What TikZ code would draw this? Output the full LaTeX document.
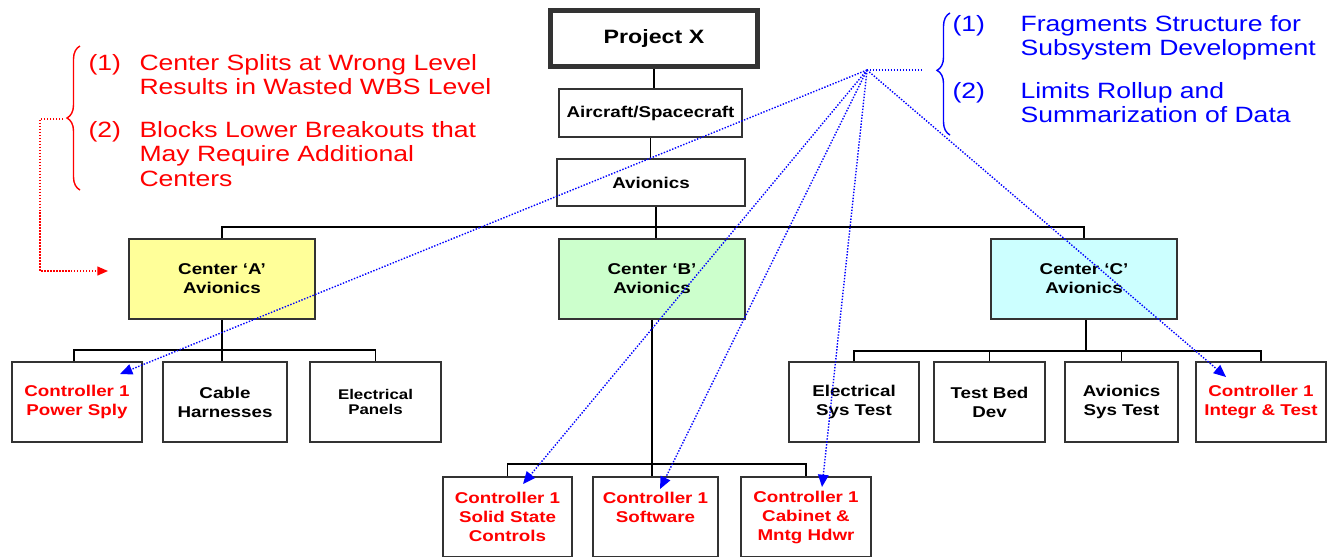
\documentclass[tikz,border=0pt]{standalone}
\usepackage{fontspec}
\setmainfont[FakeStretch=1.2]{Liberation Sans}
\usetikzlibrary{arrows.meta,decorations.pathreplacing}

\definecolor{gelb}{HTML}{FFFF99}
\definecolor{gruen}{HTML}{CCFFCC}
\definecolor{tuerkis}{HTML}{CCFFFF}
\definecolor{blau}{HTML}{0000FF}

\tikzset{
    kasten/.style={draw=black!80, line width=0.85pt, align=center, inner sep=1pt,
        minimum height=1.6cm, font=\fontsize{8.9}{10.8}\selectfont\bfseries},
    rotbox/.style={kasten, text=red},
    hinweis/.style={inner sep=0pt, font=\fontsize{12.6}{14.2}\selectfont},
    punktpfeil/.style={line width=0.8pt, dash pattern=on 0.8pt off 0.9pt},
    klammer/.style={line width=0.8pt, decorate, decoration={brace, amplitude=0.26cm}}
}

\begin{document}
\begin{tikzpicture}[x=0.02cm, y=-0.02cm, line width=0.6pt]
            % Beschneiden
            \clip[] (0,0) rectangle (1337,556);
            % Obere Kaesten
            \draw (654,38.5) node[kasten, line width=2.8pt, minimum width=4.14cm, minimum height=1.12cm,
                font=\fontsize{11}{13}\selectfont\bfseries] (projx) {Project X};
            \draw (650.5,113) node[kasten, minimum width=3.66cm, minimum height=0.96cm] (craft) {Aircraft/Spacecraft};
            \draw (651,182.5) node[kasten, minimum width=3.76cm, minimum height=0.94cm] (avio) {Avionics};
            % Zentren
            \draw (222,279) node[kasten, fill=gelb, minimum width=3.72cm] (centA) {Center ‘A’\\Avionics};
            \draw (652,279) node[kasten, fill=gruen, minimum width=3.72cm] (centB) {Center ‘B’\\Avionics};
            \draw (1084,279) node[kasten, fill=tuerkis, minimum width=3.72cm] (centC) {Center ‘C’\\Avionics};
            % Zentrum A
            \draw (77,402) node[rotbox, minimum width=2.6cm] (powr) {Controller 1\\Power Sply};
            \draw (225,402) node[kasten, minimum width=2.48cm] (cable) {Cable\\Harnesses};
            \draw (375.5,402) node[kasten, minimum width=2.62cm, font=\fontsize{8}{9}\selectfont\bfseries] (panel) {Electrical\\Panels};
            % Zentrum B
            \draw (507.5,517) node[rotbox, minimum width=2.58cm] (solid) {Controller 1\\Solid State\\Controls};
            \draw (655.5,517) node[rotbox, minimum width=2.5cm] (soft) {Controller 1\\Software\\\mbox{}};
            \draw (806,517) node[rotbox, minimum width=2.6cm] (cab) {Controller 1\\Cabinet \&\\Mntg Hdwr};
            % Zentrum C
            \draw (854,402) node[kasten, minimum width=2.6cm] (elec) {Electrical\\Sys Test};
            \draw (989.5,402) node[kasten, minimum width=2.22cm] (bed) {Test Bed\\Dev};
            \draw (1121.5,402) node[kasten, minimum width=2.26cm] (avsys) {Avionics\\Sys Test};
            \draw (1261,402) node[rotbox, minimum width=2.6cm] (integ) {Controller 1\\Integr \& Test};
            % Baumlinien
            \coordinate (bus1) at (656,227);
            \coordinate (busA) at (222,350);
            \coordinate (busB) at (652,464);
            \coordinate (busC) at (1086,351);
            \draw[] (projx.south) -- (projx.south |- craft.north);
            \draw[] (craft.south) -- (craft.south |- avio.north);
            \draw[] (avio.south -| bus1) -- (bus1 |- centB.north);
            \draw[] (centA.north) |- (bus1) -| (centC.north);
            \draw[] (centA.south) -- (centA.south |- cable.north);
            \draw[] ([xshift=-0.06cm]powr.north) |- (busA) -| (panel.north);
            \draw[] (centB.south) -- (centB.south |- soft.north);
            \draw[] (solid.north) |- (busB) -| (cab.north);
            \draw[] (centC.south -| busC) -- (busC);
            \draw[] (elec.north) |- (busC) -| (integ.north);
            \draw[] (bed.north) -- (bed.north |- busC);
            \draw[] (avsys.north) -- (avsys.north |- busC);
            % Linke Anmerkung
            \draw (88,70) node[hinweis, anchor=base west, text=red] (rot1)
                {\begin{tabular}[t]{@{}l@{}}\makebox[1.02cm][l]{(1)}Center Splits at Wrong Level\\
                \makebox[1.02cm][l]{}Results in Wasted WBS Level\end{tabular}};
            \draw (88,137) node[hinweis, anchor=base west, text=red] (rot2)
                {\begin{tabular}[t]{@{}l@{}}\makebox[1.02cm][l]{(2)}Blocks Lower Breakouts that\\
                \makebox[1.02cm][l]{}May Require Additional\\
                \makebox[1.02cm][l]{}Centers\end{tabular}};
            \draw[klammer, red] (80,190) -- (80,46);
            \coordinate (rspitze) at (63,119);
            \coordinate (recke) at (40,271);
            \coordinate (rziel) at (108,271);
            \draw[punktpfeil, red, -{Triangle[length=6pt,width=5pt]}] (rspitze) -| (recke) -- (rziel);
            % Rechte Anmerkung
            \draw (952,31) node[hinweis, anchor=base west, text=blau] (blau1)
                {\begin{tabular}[t]{@{}l@{}}\makebox[1.36cm][l]{(1)}Fragments Structure for\\
                \makebox[1.36cm][l]{}Subsystem Development\end{tabular}};
            \draw (952,98) node[hinweis, anchor=base west, text=blau] (blau2)
                {\begin{tabular}[t]{@{}l@{}}\makebox[1.36cm][l]{(2)}Limits Rollup and\\
                \makebox[1.36cm][l]{}Summarization of Data\end{tabular}};
            \draw[klammer, blau, decoration={aspect=0.53}] (950,135) -- (950,13);
            % Zeiger
            \coordinate (nabe) at (867,70);
            \coordinate (bspitze) at (923,70);
            \coordinate (z1) at (120,374);
            \coordinate (z2) at (523,484);
            \coordinate (z3) at (660,489);
            \coordinate (z4) at (822,487);
            \coordinate (z5) at (1226,377);
            \draw[punktpfeil, blau] (nabe) -- (bspitze);
            \foreach \z in {z1,z2,z3,z4,z5}
                \draw[punktpfeil, blau, -{Triangle[length=7pt,width=6pt]}] (nabe) -- (\z);
        \end{tikzpicture}
\end{document}
